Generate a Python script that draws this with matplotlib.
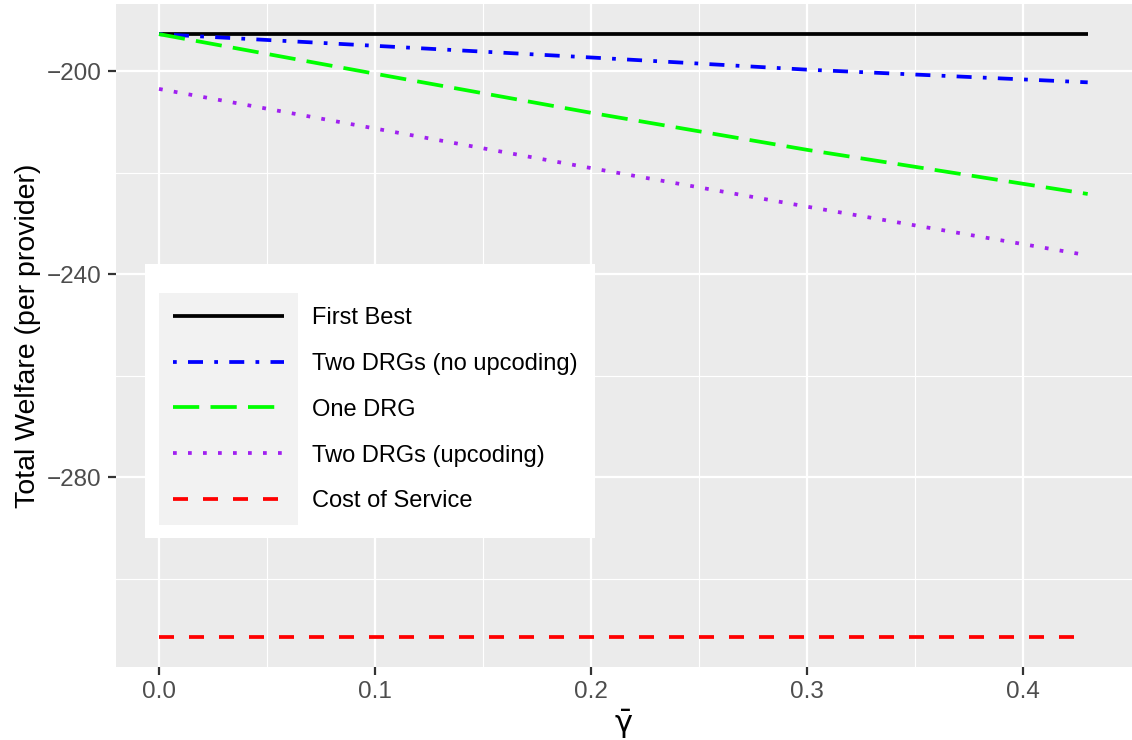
import numpy as np
import matplotlib
matplotlib.use("Agg")
import matplotlib.pyplot as plt
from matplotlib.patches import Rectangle

plt.rcParams['font.family'] = ['Liberation Sans', 'DejaVu Sans']
plt.rcParams['mathtext.fontset'] = 'custom'
plt.rcParams['mathtext.rm'] = 'DejaVu Sans'

# values
gamma = [0.0, 0.1, 0.2, 0.3, 0.43]
first_best = [-192.7, -192.7, -192.7, -192.7, -192.7]
two_drg_no_up = [-192.7, -195.0, -197.3, -199.7, -202.2]
one_drg = [-192.7, -200.5, -208.2, -215.5, -224.2]
two_drg_up = [-203.5, -211.3, -219.1, -226.7, -236.3]
cost_service = [-311.5, -311.5, -311.5, -311.5, -311.5]

labels = ["First Best", "Two DRGs (no upcoding)", "One DRG",
          "Two DRGs (upcoding)", "Cost of Service"]
colors = ["black", "blue", "#00FF00", "#A020F0", "red"]
dashes = [None, (1, 3, 4, 3), (7, 3), (1, 3), (4, 4)]
series = [first_best, two_drg_no_up, one_drg, two_drg_up, cost_service]

W, H = 1132.0, 740.0
fig = plt.figure(figsize=(W / 100, H / 100), dpi=100)
ax = fig.add_axes([116 / W, 73 / H, (W - 116) / W, 663 / H])
ax.set_facecolor("#EBEBEB")

lw = 2.7
for ys, lab, col, d in zip(series, labels, colors, dashes):
    if d is None:
        ax.plot(gamma, ys, color=col, lw=lw, label=lab, solid_capstyle='butt')
    else:
        ax.plot(gamma, ys, color=col, lw=lw, label=lab, dashes=d)

xr = max(gamma) - min(gamma)
ax.set_xlim(min(gamma) - 0.0463 * xr, min(gamma) + 1.0477 * xr)
ymin, ymax = min(cost_service), max(first_best)
yr = ymax - ymin
ax.set_ylim(ymin - 0.05 * yr, ymax + 0.05 * yr)

ax.set_xticks([0.0, 0.1, 0.2, 0.3, 0.4])
ax.set_xticks([0.05, 0.15, 0.25, 0.35], minor=True)
ax.set_yticks([-200, -240, -280])
ax.set_yticks([-220, -260, -300], minor=True)
ax.set_xticklabels(["0.0", "0.1", "0.2", "0.3", "0.4"])

ax.grid(which='major', color='white', lw=1.6)
ax.grid(which='minor', color='white', lw=0.8)
ax.set_axisbelow(True)
for s in ax.spines.values():
    s.set_visible(False)

ax.tick_params(which='major', length=5.8, width=1.6, color='#333333',
               labelsize=17.5, labelcolor='#4D4D4D', pad=4.5)
ax.tick_params(which='minor', length=0)

ax.set_xlabel(r'$\bar{\mathrm{\gamma}}$', fontsize=22, labelpad=3)
ax.set_ylabel("Total Welfare (per provider)", fontsize=20.5, labelpad=4.5)

# legend box (white frame + grey key area)
ax.add_patch(Rectangle((145 / W, 1 - 538 / H), 450 / W, 274 / H,
                       transform=fig.transFigure, facecolor='white',
                       edgecolor='none', zorder=4, clip_on=False))
ax.add_patch(Rectangle((159 / W, 1 - 525 / H), 139 / W, 232 / H,
                       transform=fig.transFigure, facecolor='#F2F2F2',
                       edgecolor='none', zorder=4.5, clip_on=False))

leg = ax.legend(loc='upper left', bbox_to_anchor=(173 / W, 1 - 307 / H),
                bbox_transform=fig.transFigure, frameon=False, fontsize=17,
                handlelength=4.7, handletextpad=1.2, labelspacing=1.01,
                borderpad=0, borderaxespad=0)
leg.set_zorder(5)

fig.savefig("out.png", dpi=100)
